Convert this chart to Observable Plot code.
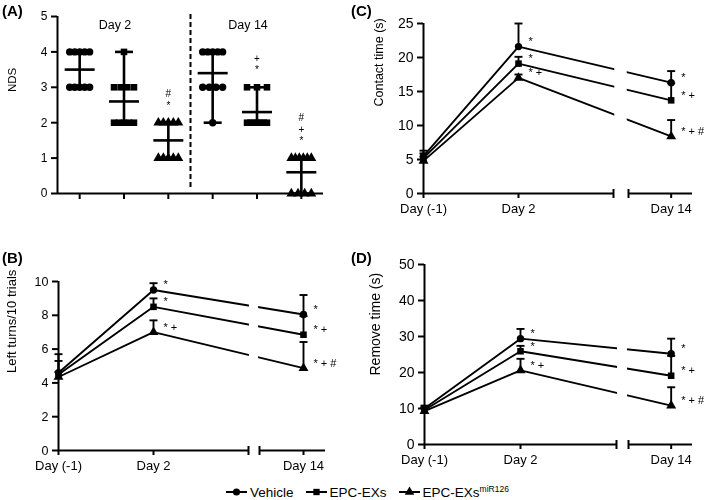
<!DOCTYPE html>
<html><head><meta charset="utf-8">
<script src="https://cdn.jsdelivr.net/npm/d3@7"></script>
<script src="https://cdn.jsdelivr.net/npm/@observablehq/plot@0.6"></script>
<style>
body{margin:0;background:#fff;}
#root{position:relative;width:709px;height:500px;background:#fff;font-family:"Liberation Sans",Arial,sans-serif;color:#000;overflow:hidden}
.panel{position:absolute;will-change:transform}
.plab{position:absolute;font-weight:bold;font-size:15px;line-height:15px}
#legend{position:absolute;left:226px;top:484px;font-size:13.5px;display:flex;align-items:center;white-space:nowrap}
#legend .item{display:flex;align-items:center;margin-right:12px}
#legend svg{margin-right:3px}
#legend sup{font-size:8.5px;vertical-align:5px}
svg text{fill:#000}
</style></head><body><div id="root"></div>
<script>
// ---------------- Data ----------------
// Panel A: neurological deficit scores (individual animals)
const ndsGroupLabels = ["Vehicle", "EPC-EXs", "EPC-EXsmiR126", "Vehicle", "EPC-EXs", "EPC-EXsmiR126"];
const ndsGroupSymbols = ["circle", "square", "triangle", "circle", "square", "triangle"];
const ndsVehicleDay2 = [4, 4, 4, 4, 4, 3, 3, 3, 3, 3];
const ndsEpcDay2 = [4, 3, 3, 3, 3, 2, 2, 2, 2, 2];
const ndsMirDay2 = [2, 2, 2, 2, 2, 1, 1, 1, 1, 1];
const ndsVehicleDay14 = [4, 4, 4, 4, 4, 3, 3, 3, 3, 2];
const ndsEpcDay14 = [3, 3, 3, 2, 2, 2, 2, 2, 2, 2];
const ndsMirDay14 = [1, 1, 1, 1, 1, 1, 0, 0, 0, 0];
const ndsSignif = ["", "", "#\n*", "", "+\n*", "#\n+\n*"];
const ndsHeaders = ["Day 2", "Day 14"];
const ndsTicks = [0, 1, 2, 3, 4, 5];

// Panels B-D: time courses
const days = [-1, 2, 14];
const dayLabels = ["Day (-1)", "Day 2", "Day 14"];
const seriesNames = ["Vehicle", "EPC-EXs", "EPC-EXs"];
const seriesSup = ["", "", "miR126"];
const seriesSymbols = ["circle", "square", "triangle"];

const leftTurnsVehicle = [4.6, 9.5, 8.05];
const leftTurnsVehicleErr = [1.1, 0.4, 1.15];
const leftTurnsEpc = [4.5, 8.5, 6.85];
const leftTurnsEpcErr = [0.8, 0.5, 1.1];
const leftTurnsMir = [4.35, 7.0, 4.87];
const leftTurnsMirErr = [0.3, 0.7, 1.55];

const contactVehicle = [5.5, 21.6, 16.3];
const contactVehicleErr = [0.8, 3.4, 1.7];
const contactEpc = [5.2, 19.1, 13.7];
const contactEpcErr = [0.7, 1.0, 2.5];
const contactMir = [4.8, 17.0, 8.4];
const contactMirErr = [0.6, 0.5, 2.4];

const removeVehicle = [10.0, 29.4, 25.2];
const removeVehicleErr = [0.8, 2.7, 4.2];
const removeEpc = [9.6, 25.9, 19.1];
const removeEpcErr = [0.8, 1.5, 5.5];
const removeMir = [9.3, 20.6, 10.8];
const removeMirErr = [0.8, 3.2, 5.1];

const signifVehicle = ["", "*", "*"];
const signifEpc = ["", "*", "* +"];
const signifMir = ["", "* +", "* + #"];

const leftTurnsTicks = [0, 2, 4, 6, 8, 10];
const contactTicks = [0, 5, 10, 15, 20, 25];
const removeTicks = [0, 10, 20, 30, 40, 50];

// ---------------- Helpers ----------------
const FONT = '"Liberation Sans", Arial, sans-serif';
const hline = {draw(ctx, size) { const w = Math.sqrt(size / Math.PI); ctx.moveTo(-w, 0); ctx.lineTo(w, 0); }};
const vline = {draw(ctx, size) { const w = Math.sqrt(size / Math.PI); ctx.moveTo(0, -w); ctx.lineTo(0, w); }};
// broken x axis: compressed gap between day 5 and day 12
const xBreakDomain = [-1, 5, 12, 15];
const root = document.getElementById("root");

function place(el, left, top) {
  const d = document.createElement("div");
  d.className = "panel";
  d.style.left = left + "px"; d.style.top = top + "px";
  d.appendChild(el);
  root.appendChild(d);
}
function panelLabel(txt, left, top) {
  const d = document.createElement("div");
  d.className = "plab"; d.textContent = txt;
  d.style.left = left + "px"; d.style.top = top + "px";
  root.appendChild(d);
}

// ---------------- Panel A ----------------
{
  const groups = [ndsVehicleDay2, ndsEpcDay2, ndsMirDay2, ndsVehicleDay14, ndsEpcDay14, ndsMirDay14];
  const spread = 0.45;
  const points = groups.flatMap((vals, gi) => {
    const counts = d3.rollup(vals, v => v.length, v => v);
    const seen = new Map();
    return vals.map(v => {
      const n = counts.get(v); const k = seen.get(v) || 0; seen.set(v, k + 1);
      const off = n > 1 ? (k / (n - 1) - 0.5) * spread : 0;
      return {x: gi + 1 + off, value: v, symbol: ndsGroupSymbols[gi]};
    });
  });
  const stats = groups.map((vals, gi) => ({
    x: gi + 1, mean: d3.mean(vals), min: d3.min(vals), max: d3.max(vals), signif: ndsSignif[gi]
  }));
  const chart = Plot.plot({
    width: 350, height: 215, marginLeft: 57, marginRight: 27, marginTop: 16, marginBottom: 22,
    style: {fontFamily: FONT, fontSize: "12px", background: "transparent", color: "black", overflow: "visible"},
    x: {type: "linear", domain: [0.5, groups.length + 0.5]},
    y: {domain: [0, 5]},
    marks: [
      Plot.ruleX([(groups.length + 1) / 2], {strokeDasharray: "5,3", strokeWidth: 2, insetTop: -2, insetBottom: 5}),
      Plot.ruleX(stats, {x: "x", y1: "min", y2: "max", strokeWidth: 2.6}),
      Plot.dot(stats, {x: "x", y: "min", symbol: hline, r: 9, stroke: "black", strokeWidth: 2.6}),
      Plot.dot(stats, {x: "x", y: "max", symbol: hline, r: 9, stroke: "black", strokeWidth: 2.6}),
      Plot.dot(stats, {x: "x", y: "mean", symbol: hline, r: 15, stroke: "black", strokeWidth: 2.6}),
      Plot.dot(points, {x: "x", y: "value", symbol: "symbol", r: 3.7, fill: "black", stroke: "none"}),
      Plot.ruleX([0.5], {y1: 0, y2: 5, strokeWidth: 2}),
      Plot.ruleY([0], {x1: 0.5, x2: groups.length + 0.5, strokeWidth: 2}),
      Plot.axisY(ndsTicks, {tickSize: 6, tickPadding: 4, strokeWidth: 2, fontSize: 12, label: null}),
      Plot.axisX(stats.map(d => d.x), {tickSize: 6, strokeWidth: 2, tickFormat: () => "", label: null}),
      Plot.text(["NDS"], {frameAnchor: "left", rotate: -90, dx: -45, dy: -13, fontSize: 11.5, fill: "black"}),
      Plot.text(ndsHeaders, {x: (d, i) => 2 + 3 * i, y: 5, dx: -9, dy: 8, fontSize: 12.5, fill: "black"}),
      Plot.text(stats.filter(d => d.signif), {x: "x", y: "max", text: "signif", lineAnchor: "bottom", lineHeight: 1.15, dy: -14, fontSize: 10, fill: "black"})
    ]
  });
  place(chart, 0, 0);
  panelLabel("(A)", 2, 3);
}

// ---------------- Line panels ----------------
function linePanel(o) {
  const rows = [];
  o.values.forEach((vals, s) => vals.forEach((v, i) => rows.push({
    series: s, symbol: seriesSymbols[s], day: days[i], value: v, top: v + o.errors[s][i], signif: o.signif[s][i]
  })));
  const yMax = o.ticks[o.ticks.length - 1];
  return Plot.plot({
    width: o.width, height: o.height,
    marginLeft: o.xRange[0], marginRight: o.width - o.xRange[3], marginTop: o.marginTop, marginBottom: o.marginBottom,
    style: {fontFamily: FONT, fontSize: o.tickFont + "px", background: "transparent", color: "black", overflow: "visible"},
    x: {type: "linear", domain: xBreakDomain, range: o.xRange},
    y: {domain: [0, yMax]},
    marks: [
      Plot.line(rows, {x: "day", y: "value", z: "series", stroke: "black", strokeWidth: 1.9}),
      Plot.rect([0], {x1: 5.6, x2: 11.4, fill: "white"}),
      Plot.ruleX(rows, {x: "day", y1: "value", y2: "top", strokeWidth: 1.9}),
      Plot.dot(rows, {x: "day", y: "top", symbol: hline, r: 4, stroke: "black", strokeWidth: 1.9}),
      Plot.dot(rows, {x: "day", y: "value", symbol: "symbol", r: 3.7, fill: "black", stroke: "none"}),
      Plot.ruleX([xBreakDomain[0]], {y1: 0, y2: yMax, strokeWidth: 2}),
      Plot.ruleY([[xBreakDomain[0], xBreakDomain[1]], [xBreakDomain[2], xBreakDomain[3]]], {x1: d => d[0], x2: d => d[1], y: () => 0, strokeWidth: 2}),
      Plot.dot([xBreakDomain[1], xBreakDomain[2]], {x: d => d, y: () => 0, symbol: vline, r: 4.5, stroke: "black", strokeWidth: 2}),
      Plot.axisY(o.ticks, {tickSize: 6, tickPadding: 4, strokeWidth: 2, fontSize: o.tickFont, label: null}),
      Plot.axisX(days, {tickSize: 5, tickPadding: 5, strokeWidth: 2, fontSize: 13, tickFormat: d => dayLabels[days.indexOf(d)], label: null}),
      Plot.text([o.label], {frameAnchor: "left", rotate: -90, dx: o.labelDx, dy: o.labelDy, fontSize: o.labelFont, fill: "black"}),
      Plot.text(rows.filter(d => d.signif), {x: "day", y: "value", text: "signif", textAnchor: "start", dx: 10, dy: -5, fontSize: 11, fill: "black"})
    ]
  });
}

place(linePanel({
  width: 350, height: 245, marginTop: 51, marginBottom: 25, xRange: [58, 248, 259, 325],
  ticks: leftTurnsTicks, tickFont: 12.5, label: "Left turns/10 trials", labelDx: -47, labelDy: 7, labelFont: 13,
  values: [leftTurnsVehicle, leftTurnsEpc, leftTurnsMir],
  errors: [leftTurnsVehicleErr, leftTurnsEpcErr, leftTurnsMirErr],
  signif: [signifVehicle, signifEpc, signifMir]
}), 0, 230);
panelLabel("(B)", 2, 250);

place(linePanel({
  width: 359, height: 220, marginTop: 23, marginBottom: 27, xRange: [73, 263, 278, 342],
  ticks: contactTicks, tickFont: 14, label: "Contact time (s)", labelDx: -45, labelDy: -2, labelFont: 12.5,
  values: [contactVehicle, contactEpc, contactMir],
  errors: [contactVehicleErr, contactEpcErr, contactMirErr],
  signif: [signifVehicle, signifEpc, signifMir]
}), 350, 0);
panelLabel("(C)", 351, 3);

place(linePanel({
  width: 359, height: 245, marginTop: 34, marginBottom: 31, xRange: [74, 266, 278, 342],
  ticks: removeTicks, tickFont: 14, label: "Remove time (s)", labelDx: -49, labelDy: 21, labelFont: 14,
  values: [removeVehicle, removeEpc, removeMir],
  errors: [removeVehicleErr, removeEpcErr, removeMirErr],
  signif: [signifVehicle, signifEpc, signifMir]
}), 350, 230);
panelLabel("(D)", 351, 250);

// ---------------- Legend ----------------
{
  const leg = document.createElement("div");
  leg.id = "legend";
  seriesNames.forEach((name, i) => {
    const item = document.createElement("div");
    item.className = "item";
    const svg = d3.create("svg").attr("width", 21).attr("height", 12);
    svg.append("line").attr("x1", 0).attr("x2", 21).attr("y1", 6).attr("y2", 6).attr("stroke", "black").attr("stroke-width", 2);
    const sym = {circle: d3.symbolCircle, square: d3.symbolSquare, triangle: d3.symbolTriangle}[seriesSymbols[i]];
    svg.append("path").attr("transform", "translate(10.5,6)").attr("d", d3.symbol(sym, 40)()).attr("fill", "black");
    item.appendChild(svg.node());
    const t = document.createElement("span");
    t.textContent = name;
    if (seriesSup[i]) { const s = document.createElement("sup"); s.textContent = seriesSup[i]; t.appendChild(s); }
    item.appendChild(t);
    leg.appendChild(item);
  });
  root.appendChild(leg);
}
</script></body></html>
